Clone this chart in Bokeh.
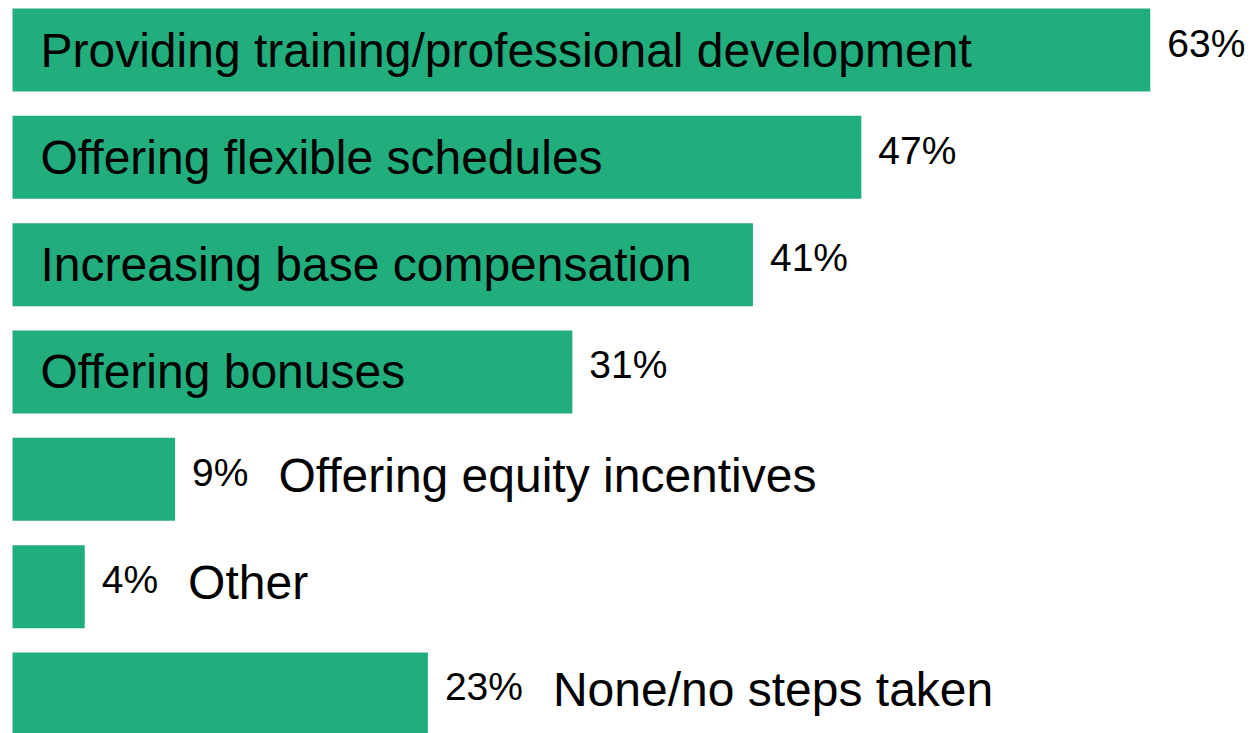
from bokeh.plotting import figure
from bokeh.models import Range1d, ColumnDataSource
from bokeh.core.properties import value
from bokeh.embed import file_html
from bokeh.resources import INLINE

categories = [
    "Providing training/professional development",
    "Offering flexible schedules",
    "Increasing base compensation",
    "Offering bonuses",
    "Offering equity incentives",
    "Other",
    "None/no steps taken",
]
values = [63, 47, 41, 31, 9, 4, 23]
value_labels = [f"{v}%" for v in values]

W, H = 1253, 733
px_per_pct = 18.06
px_per_row = 107.33
left_px = 12
top_center_px = 49.5

x0 = -left_px / px_per_pct
x1 = (W - left_px) / px_per_pct
y_top = -top_center_px / px_per_row
y_bot = (H - top_center_px) / px_per_row

p = figure(width=W, height=H, output_backend="svg", toolbar_location=None,
           x_range=Range1d(x0, x1), y_range=Range1d(y_bot, y_top),
           min_border=0, outline_line_color=None)
p.axis.visible = False
p.grid.visible = False
p.background_fill_color = "white"
p.border_fill_color = "white"

rows = list(range(len(categories)))
inside = [v >= 25 for v in values]

src = ColumnDataSource(dict(y=rows, v=values, cat=categories, lab=value_labels))
p.hbar(y="y", left=0, right="v", height=83 / px_per_row, source=src,
       fill_color="#21AD7C", line_color=None)

FONT = value("Liberation Sans")
VAL_SIZE = 39
LAB_SIZE = 48

# value labels
p.text(x="v", y="y", text="lab", source=src, x_offset=17, y_offset=-7,
       text_font=FONT, text_font_size=f"{VAL_SIZE}px", text_baseline="middle",
       text_align="left", text_color="black")

# inside labels
in_src = ColumnDataSource(dict(
    y=[r for r, i in zip(rows, inside) if i],
    cat=[c for c, i in zip(categories, inside) if i]))
p.text(x=0, y="y", text="cat", source=in_src, x_offset=28,
       text_font=FONT, text_font_size=f"{LAB_SIZE}px", text_baseline="middle",
       text_align="left", text_color="black")

# outside labels
out_rows = [r for r, i in zip(rows, inside) if not i]
out_off = []
for r in out_rows:
    lab = value_labels[r]
    w = (0.556 * (len(lab) - 1) + 0.889) * VAL_SIZE
    out_off.append(17 + w + 30)
out_src = ColumnDataSource(dict(
    y=out_rows, v=[values[r] for r in out_rows],
    cat=[categories[r] for r in out_rows], off=out_off))
p.text(x="v", y="y", text="cat", source=out_src, x_offset="off", y_offset=-4,
       text_font=FONT, text_font_size=f"{LAB_SIZE}px", text_baseline="middle",
       text_align="left", text_color="black")

open("out.html", "w").write(file_html(p, INLINE))
